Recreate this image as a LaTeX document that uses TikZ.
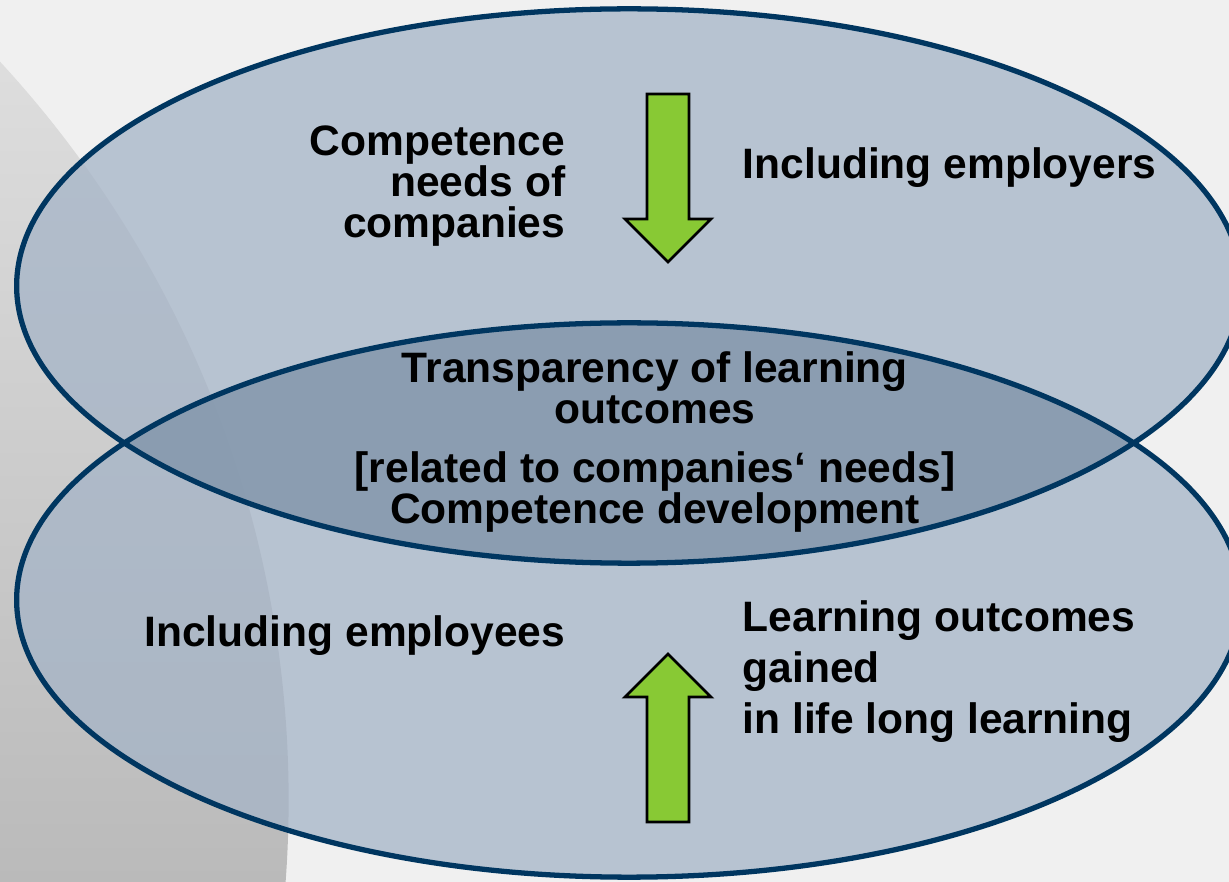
\documentclass[tikz,border=0pt]{standalone}
\usepackage{fontspec}
\setmainfont{Liberation Sans}
\usepackage{tikz}

\definecolor{navy}{RGB}{0,54,96}
\definecolor{lensfill}{RGB}{165,180,199}
\definecolor{lensdark}{RGB}{60,90,115}
\definecolor{arrowgreen}{RGB}{136,201,52}
\definecolor{slide}{RGB}{240,240,240}

\begin{document}
\begin{tikzpicture}[x=0.01cm,y=-0.01cm,
    lens/.style={fill=lensfill,fill opacity=0.75},
    rim/.style={draw=navy,line width=1.5pt},
    greenarrow/.style={draw=black,line width=0.8pt,fill=arrowgreen,line join=miter},
    label/.style={font=\fontsize{12.1}{11.7}\selectfont\bfseries,inner sep=0pt}]
    \useasboundingbox (0,0) rectangle (1229,882);
    \clip (0,0) rectangle (1229,882);

    % draw slide background
    \fill[slide] (0,0) rectangle (1229,882);
    \begin{scope}
        \clip (-800,800) circle [radius=10.88cm];
        \shade[top color={rgb,255:red,224;green,224;blue,224},bottom color={rgb,255:red,186;green,186;blue,186}] (-10,0) rectangle (420,882);
    \end{scope}

    % draw ellipses
    \foreach \y in {286,600}
    \fill[lens] (629,\y) ellipse [x radius=6.12cm, y radius=2.77cm];
    \begin{scope}
        \clip (629,286) ellipse [x radius=6.12cm, y radius=2.77cm];
        \fill[lensdark,fill opacity=0.27] (629,600) ellipse [x radius=6.12cm, y radius=2.77cm];
    \end{scope}
    \foreach \y in {286,600}
    \draw[rim] (629,\y) ellipse [x radius=6.12cm, y radius=2.77cm];

    % draw arrows
    \foreach \b/\d in {94/1,822/-1}
    \draw[greenarrow] (647,\b) -- (689,\b) -- (689,{\b+125*\d}) -- (711,{\b+125*\d})
        -- (668,{\b+168*\d}) -- (625,{\b+125*\d}) -- (647,{\b+125*\d}) -- cycle;

    % draw nodes
    \node[label,anchor=east,align=right] (needs) at (566,186) {Competence\\needs of\\companies};
    \node[label,anchor=west] (employers) at (742,168) {Including employers};
    \node[label,align=center] (outcomes) at (655,442) {Transparency of learning\\outcomes\\[5pt]
        [related to companies‘ needs]\\Competence development};
    \node[label,anchor=east] (employees) at (566,636) {Including employees};
    \node[label,anchor=west,align=left,font=\fontsize{12.1}{14.5}\selectfont\bfseries] (gained) at (742,672)
        {Learning outcomes\\gained\\in life long learning};
\end{tikzpicture}
\end{document}
